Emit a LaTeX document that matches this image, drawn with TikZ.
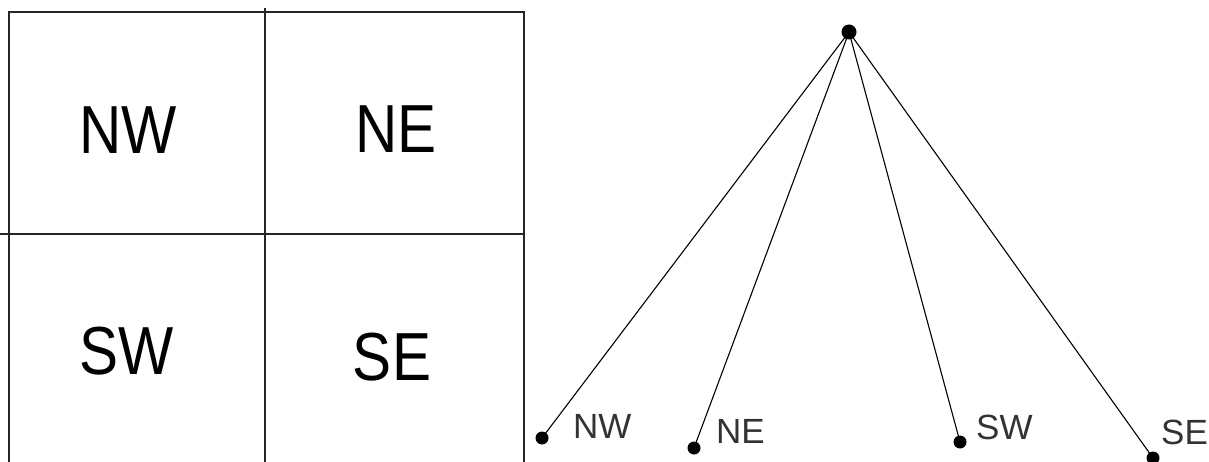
\documentclass[tikz,border=0pt]{standalone}
\usepackage{fontspec}
\setmainfont{Liberation Sans}
\begin{document}
\begin{tikzpicture}[x=1pt,y=-1pt,
  gridline/.style={line width=2pt,draw=black!85,line cap=rect},
  biglabel/.style={font=\fontsize{68}{68}\selectfont,inner sep=0pt,xscale=0.86,transform shape},
  smalllabel/.style={font=\fontsize{35}{35}\selectfont,text=black!80,inner sep=0pt,anchor=west},
  dot/.style={circle,fill=black,inner sep=0pt,minimum size=13pt},
  edge/.style={line width=1.1pt,draw=black}]
\useasboundingbox (0,0) rectangle (1209,462);
% quadrant grid
\draw[gridline] (8.5,470) -- (8.5,12) -- (524,12) -- (524,470);
\draw[gridline] (265,9) -- (265,470);
\draw[gridline] (0,234) -- (524,234);
\node[biglabel] (qnw) at (128,130) {NW};
\node[biglabel] (qne) at (396,129) {NE};
\node[biglabel] (qsw) at (127,351) {SW};
\node[biglabel] (qse) at (392,357) {SE};
% tree
\node[dot,minimum size=15pt] (root) at (849,32) {};
\node[dot] (lnw) at (542,438) {};
\node[dot] (lne) at (694,448) {};
\node[dot] (lsw) at (960,442) {};
\node[dot] (lse) at (1153,458) {};
\draw[edge] (root.center) -- (lnw.center);
\draw[edge] (root.center) -- (lne.center);
\draw[edge] (root.center) -- (lsw.center);
\draw[edge] (root.center) -- (lse.center);
\node[smalllabel] (tnw) at (573,426) {NW};
\node[smalllabel] (tne) at (716,431) {NE};
\node[smalllabel] (tsw) at (976,427) {SW};
\node[smalllabel] (tse) at (1161,432) {SE};
\end{tikzpicture}
\end{document}
